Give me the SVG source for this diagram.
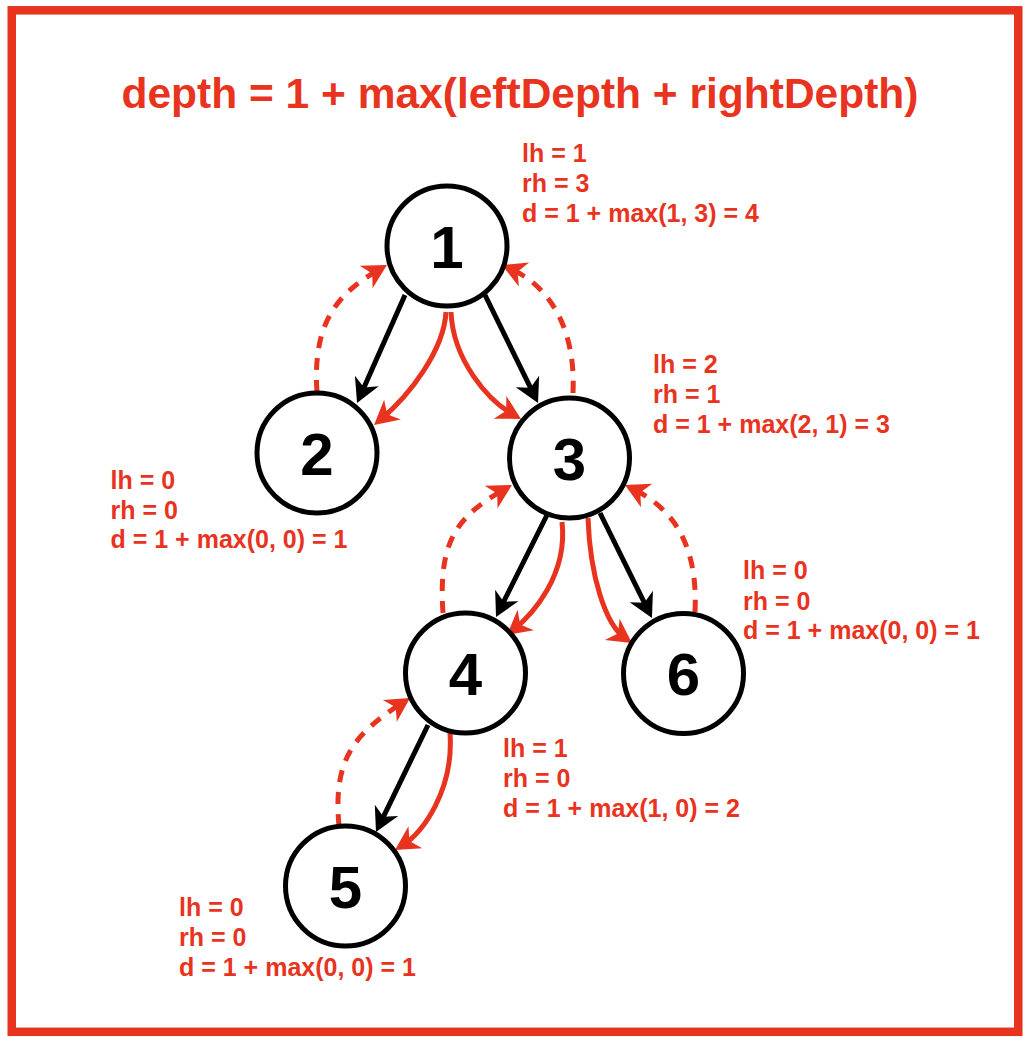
<svg xmlns="http://www.w3.org/2000/svg" width="1032" height="1042" viewBox="0 0 1032 1042">
<style>
.node circle{fill:#fff;stroke:#000;stroke-width:5}
.num{font-family:"Liberation Sans",Arial,sans-serif;font-weight:bold;font-size:60px;fill:#000;text-anchor:middle}
.lbl{font-family:"Liberation Sans",Arial,sans-serif;font-weight:bold;font-size:25px;fill:#E8331F}
.title{font-family:"Liberation Sans",Arial,sans-serif;font-weight:bold;font-size:42.5px;fill:#E8331F;text-anchor:middle}
.blk{fill:none;stroke:#000;stroke-width:5;marker-end:url(#ab)}
.red{fill:none;stroke:#E8331F;stroke-width:5;marker-end:url(#ar)}
.dash{fill:none;stroke:#E8331F;stroke-width:5;stroke-dasharray:12 10;marker-end:url(#ar)}
</style>
<defs>
<marker id="ab" markerUnits="userSpaceOnUse" orient="auto" refX="0" refY="0" markerWidth="1" markerHeight="1" overflow="visible">
<path d="M8,0 L-16,-13 L-9,0 L-16,13 Z" fill="#000"/>
</marker>
<marker id="ar" markerUnits="userSpaceOnUse" orient="auto" refX="0" refY="0" markerWidth="1" markerHeight="1" overflow="visible">
<path d="M8,0 L-16,-13 L-9,0 L-16,13 Z" fill="#E8331F"/>
</marker>
</defs>
<rect x="0" y="0" width="1032" height="1042" fill="#fff"/>
<rect id="frame" x="11.75" y="10.3" width="1006.5" height="1021.5" fill="none" stroke="#E8331F" stroke-width="8.5"/>
<text class="title" x="520" y="108">depth = 1 + max(leftDepth + rightDepth)</text>

<g id="connectors">
<path class="blk" d="M405,295 L360.3,395.7"/>
<path class="blk" d="M485,295 L534.5,395.8"/>
<path class="blk" d="M547,515 L499.6,609.8"/>
<path class="blk" d="M600,513 L648.4,610.8"/>
<path class="blk" d="M428,725 L379.5,824.8"/>
<path class="red" d="M446,312 C444,350 410,395 380.2,419.9"/>
<path class="red" d="M451,312 C453,360 487.8,400.5 514,415.1"/>
<path class="red" d="M562,522 C568,575 532.7,614.4 513.2,630"/>
<path class="red" d="M588,518 C590,575 604.9,624.3 625.4,638.5"/>
<path class="red" d="M450,733 C454,790 423,832.5 401.8,845.8"/>
<path class="dash" d="M317,392 C312,320 340,292 380,269"/>
<path class="dash" d="M573,393 C576,330 550.6,286 509.3,268.2"/>
<path class="dash" d="M443,613 C438,540 457.3,516.3 505,489"/>
<path class="dash" d="M695,612 C698,550 677.2,510.1 632.2,488.5"/>
<path class="dash" d="M339,826 C333,760 352.8,734.6 403.3,702.3"/>
</g>

<g id="node1" class="node"><circle cx="447" cy="246" r="60"/><text class="num" x="447" y="267.5">1</text></g>
<g id="node2" class="node"><circle cx="317" cy="453" r="60"/><text class="num" x="317" y="474.5">2</text></g>
<g id="node3" class="node"><circle cx="569.5" cy="458" r="60"/><text class="num" x="569.5" y="479.5">3</text></g>
<g id="node4" class="node"><circle cx="465.5" cy="673" r="60"/><text class="num" x="465.5" y="694.5">4</text></g>
<g id="node5" class="node"><circle cx="345.5" cy="886" r="60"/><text class="num" x="345.5" y="907.5">5</text></g>
<g id="node6" class="node"><circle cx="683.5" cy="673.5" r="60"/><text class="num" x="683.5" y="695">6</text></g>

<g id="label1"><text class="lbl" x="522" y="162">lh = 1</text><text class="lbl" x="522" y="192">rh = 3</text><text class="lbl" x="522" y="222">d = 1 + max(1, 3) = 4</text></g>
<g id="label3"><text class="lbl" x="653" y="373">lh = 2</text><text class="lbl" x="653" y="403">rh = 1</text><text class="lbl" x="653" y="433">d = 1 + max(2, 1) = 3</text></g>
<g id="label2"><text class="lbl" x="110.5" y="489">lh = 0</text><text class="lbl" x="110.5" y="519">rh = 0</text><text class="lbl" x="110.5" y="548">d = 1 + max(0, 0) = 1</text></g>
<g id="label6"><text class="lbl" x="743" y="579">lh = 0</text><text class="lbl" x="743" y="610">rh = 0</text><text class="lbl" x="743" y="639">d = 1 + max(0, 0) = 1</text></g>
<g id="label4"><text class="lbl" x="503" y="757">lh = 1</text><text class="lbl" x="503" y="787">rh = 0</text><text class="lbl" x="503" y="817">d = 1 + max(1, 0) = 2</text></g>
<g id="label5"><text class="lbl" x="179" y="916">lh = 0</text><text class="lbl" x="179" y="946">rh = 0</text><text class="lbl" x="179" y="976">d = 1 + max(0, 0) = 1</text></g>
</svg>
